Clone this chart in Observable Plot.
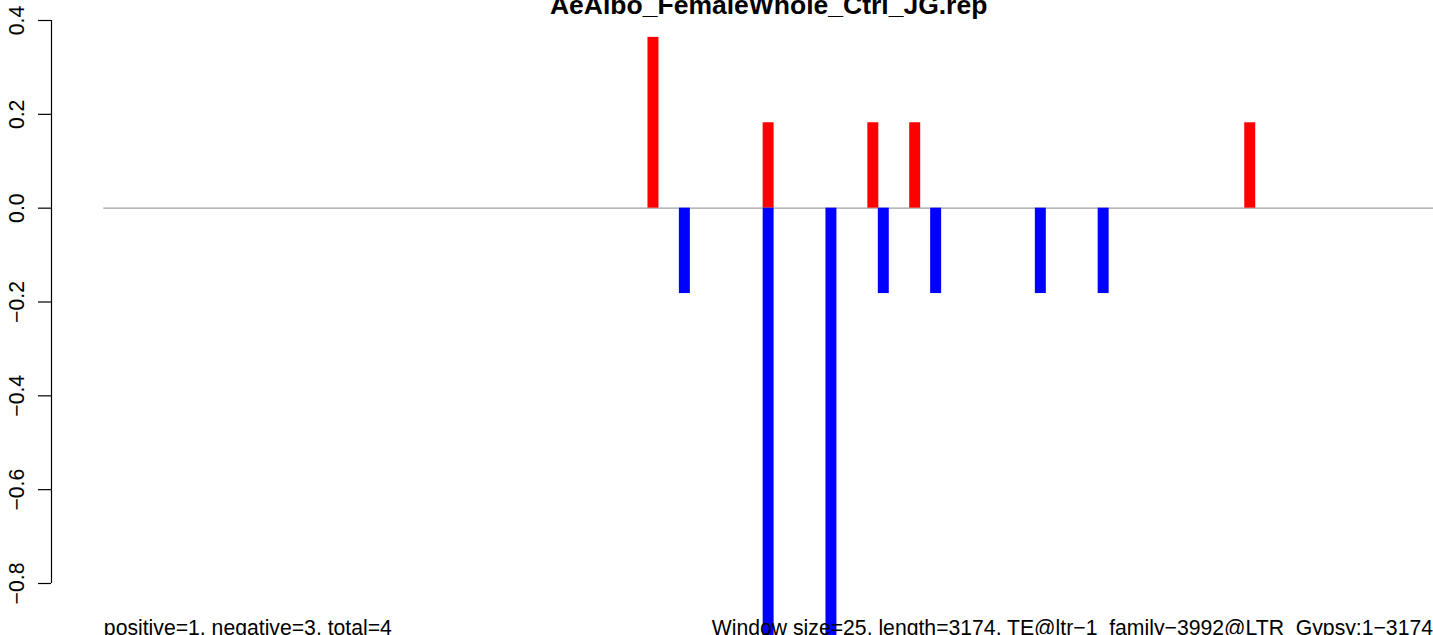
<!DOCTYPE html>
<html><head><meta charset="utf-8">
<script src="https://cdn.jsdelivr.net/npm/d3@7"></script>
<script src="https://cdn.jsdelivr.net/npm/@observablehq/plot@0.6"></script>
<style>
html,body{margin:0;padding:0;background:#fff;overflow:hidden;}
#chart svg{display:block;}
</style></head><body><div id="chart"></div>
<script>
const title = "AeAlbo_FemaleWhole_Ctrl_JG.rep";
const leftNote = "positive=1, negative=3, total=4";
const rightNote = "Window size=25, length=3174, TE@ltr\u22121_family\u22123992@LTR_Gypsy:1\u22123174";
const nWindows = 127;
const xDomain = [-5, 127];
const yTicks = [0.4, 0.2, 0.0, -0.2, -0.4, -0.6, -0.8];
const posWindows = [52, 63, 73, 77, 109];
const posValues = [0.364, 0.182, 0.182, 0.182, 0.182];
const negWindows = [55, 63, 69, 74, 79, 89, 95];
const negValues = [-0.182, -1.09, -1.09, -0.182, -0.182, -0.182, -0.182];

const bars = [
  ...posWindows.map((w, i) => ({w, v: posValues[i], sign: "pos"})),
  ...negWindows.map((w, i) => ({w, v: negValues[i], sign: "neg"}))
];
const fmt = d3.format(".1f");
const FONT = "'Liberation Sans', Arial, Helvetica, sans-serif";

const plot = Plot.plot({
  width: 1433, height: 635,
  marginLeft: 51, marginRight: 0, marginTop: 20, marginBottom: 52,
  x: {domain: xDomain, axis: null},
  y: {domain: [yTicks[yTicks.length - 1], yTicks[0]], axis: null},
  style: {fontFamily: FONT, background: "white"},
  marks: [
    Plot.ruleY([0], {x1: 0, x2: nWindows, stroke: "#a0a0a0", strokeWidth: 1.3}),
    Plot.rectY(bars, {
      x1: "w", x2: d => d.w + 1, y1: 0, y2: "v",
      fill: d => d.sign === "pos" ? "#ff0000" : "#0000ff",
      insetLeft: -0.3, insetRight: -0.2
    }),
    Plot.ruleX([xDomain[0]], {y1: yTicks[yTicks.length - 1], y2: yTicks[0], stroke: "black", strokeWidth: 1.2}),
    Plot.axisY({ticks: yTicks, tickSize: 13, tickFormat: () => "", label: null, stroke: "black", strokeWidth: 1.2}),
    Plot.text(yTicks, {
      y: d => d, text: d => fmt(d), frameAnchor: "left", dx: -28, rotate: -90,
      textAnchor: "middle", lineAnchor: "bottom", fontSize: 21.2, fill: "black"
    }),
    Plot.text([{t: title, x: nWindows / 2}], {
      x: "x", text: "t", frameAnchor: "top", dy: -7, lineAnchor: "bottom",
      fontSize: 26.5, fontWeight: "bold", fill: "black", textAnchor: "middle"
    }),
    Plot.text([{t: leftNote, x: 0}], {
      x: "x", text: "t", frameAnchor: "bottom", dy: 51.5, lineAnchor: "bottom",
      textAnchor: "start", fontSize: 21.2, fill: "black"
    }),
    Plot.text([rightNote], {
      text: d => d, frameAnchor: "bottom-right", dx: -0.5, dy: 51.5, lineAnchor: "bottom",
      textAnchor: "end", fontSize: 21.2, fill: "black"
    })
  ]
});
document.getElementById("chart").appendChild(plot);
</script>
</body></html>
